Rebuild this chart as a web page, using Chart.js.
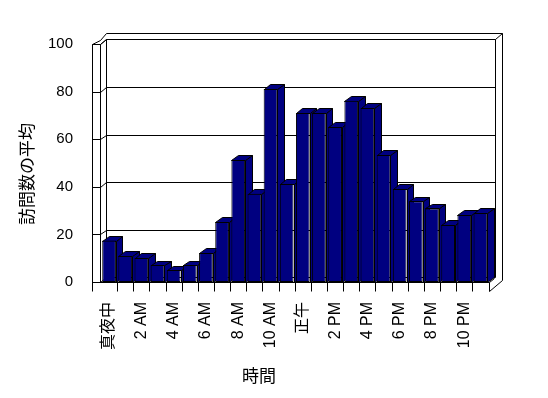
<!DOCTYPE html>
<html lang="ja">
<head>
<meta charset="utf-8">
<title>時間別の訪問数の平均</title>
<script src="https://cdn.jsdelivr.net/npm/chart.js@4.4.1/dist/chart.umd.min.js"></script>
<style>
  html, body { margin: 0; padding: 0; background: #fff; }
  #wrap { width: 548px; height: 398px; }
</style>
</head>
<body>
<div id="wrap"><canvas id="visitsChart"></canvas></div>
<script>
// 時間帯（カテゴリ）
const hours = ['真夜中', '1 AM', '2 AM', '3 AM', '4 AM', '5 AM', '6 AM', '7 AM', '8 AM', '9 AM', '10 AM', '11 AM',
               '正午', '1 PM', '2 PM', '3 PM', '4 PM', '5 PM', '6 PM', '7 PM', '8 PM', '9 PM', '10 PM', '11 PM'];
// 訪問数の平均
const visits = [17.4, 10.9, 10.1, 7.1, 5.0, 7.1, 12.2, 25.2, 51.3, 37.1, 81.1, 41.2,
                71.0, 71.0, 65.1, 76.2, 73.1, 53.4, 39.1, 33.9, 30.9, 24.0, 28.2, 29.0];
const yTicks = [0, 20, 40, 60, 80, 100];
const xTitle = '時間';
const yTitle = '訪問数の平均';

// 奥行き（擬似3D）
const DX = 6.5;
const DY = -4.6;
const NAVY = '#000080';

function seg(ctx, pts) {
    ctx.beginPath();
    pts.forEach((p, i) => {
        const x = Math.round(p[0]) + 0.5, y = Math.round(p[1]) + 0.5;
        if (i === 0) ctx.moveTo(x, y); else ctx.lineTo(x, y);
    });
    ctx.stroke();
}

function poly(ctx, pts) {
    ctx.beginPath();
    pts.forEach((p, i) => {
        const x = Math.round(p[0]) + 0.5, y = Math.round(p[1]) + 0.5;
        if (i === 0) ctx.moveTo(x, y); else ctx.lineTo(x, y);
    });
    ctx.closePath();
    ctx.fill();
    ctx.stroke();
}

// 壁・床・目盛線とバーの側面
const frame3d = {
    id: 'frame3d',
    beforeDatasetsDraw(chart) {
        const { ctx, chartArea: a, scales: { y } } = chart;
        const L = a.left - 1.5, R = a.right;
        const T = y.getPixelForValue(100), B = a.bottom;
        const oL = L - 7.5, fB = B + 9;
        const BR = R + DX, oT = T + DY - 6.7, oR = BR + 6.5;
        ctx.save();
        ctx.strokeStyle = '#000';
        ctx.lineWidth = 1;

        // 外枠
        seg(ctx, [[oL, fB], [oL, T], [L, T - 4.5], [L + DX, oT], [oR, oT], [oR, fB - 11], [R, fB]]);
        seg(ctx, [[oL, T], [L, T], [L, B]]);
        seg(ctx, [[L, T], [L + DX, T + DY]]);
        seg(ctx, [[L + DX, B + DY], [L + DX, T + DY], [BR, T + DY], [BR, B + DY]]);
        seg(ctx, [[BR, T + DY], [oR, oT]]);

        // 目盛線
        yTicks.forEach(v => {
            const yy = y.getPixelForValue(v);
            seg(ctx, [[oL, yy], [L, yy], [L + DX, yy + DY], [BR, yy + DY]]);
        });

        // バーの上面と側面
        ctx.fillStyle = NAVY;
        chart.getDatasetMeta(0).data.forEach(bar => {
            const p = bar.getProps(['x', 'y', 'base', 'width'], true);
            const l = p.x - p.width / 2, r = p.x + p.width / 2;
            poly(ctx, [[r, p.y], [r + DX, p.y + DY], [r + DX, p.base + DY], [r, p.base]]);
            poly(ctx, [[l, p.y], [l + DX, p.y + DY], [r + DX, p.y + DY], [r, p.y]]);
        });
        ctx.restore();
    },
    afterDatasetsDraw(chart) {
        const { ctx, chartArea: a, scales: { x } } = chart;
        const L = a.left - 1.5, R = a.right, B = a.bottom;
        const oL = L - 7.5, fB = B + 9;
        ctx.save();
        ctx.strokeStyle = '#000';
        ctx.lineWidth = 1;
        // 床の前面
        seg(ctx, [[oL, B], [R, B], [R, fB]]);
        for (let i = 0; i < hours.length - 1; i++) {
            const xx = (x.getPixelForValue(i) + x.getPixelForValue(i + 1)) / 2;
            seg(ctx, [[xx, B], [xx, fB]]);
        }
        seg(ctx, [[R, B], [R + 5, B - 4.4]]);
        ctx.restore();
    },
    afterDraw(chart) {
        const { ctx } = chart;
        ctx.save();
        ctx.fillStyle = '#000';
        ctx.font = '17px "Noto Sans CJK JP"';
        ctx.textAlign = 'center';
        ctx.textBaseline = 'middle';
        ctx.fillText(xTitle, 259, 376);
        ctx.translate(27, 174);
        ctx.rotate(-Math.PI / 2);
        ctx.fillText(yTitle, 0, 0);
        ctx.restore();
    }
};

document.addEventListener('DOMContentLoaded', () => {
    const ctx = document.getElementById('visitsChart').getContext('2d');
    new Chart(ctx, {
        type: 'bar',
        data: {
            labels: hours,
            datasets: [{
                label: yTitle,
                data: visits,
                backgroundColor: NAVY,
                borderColor: '#000',
                borderWidth: 1,
                borderSkipped: false,
                barPercentage: 0.85,
                categoryPercentage: 1
            }]
        },
        options: {
            responsive: true,
            maintainAspectRatio: false,
            animation: false,
            layout: { padding: { top: 44, right: 59.5, left: 0, bottom: 0 } },
            plugins: {
                legend: { display: false },
                tooltip: { enabled: false }
            },
            scales: {
                x: {
                    grid: { display: false, drawTicks: false },
                    border: { display: false },
                    afterFit: s => { s.height = 116; },
                    ticks: {
                        autoSkip: false,
                        minRotation: 90,
                        maxRotation: 90,
                        padding: 20,
                        color: '#000',
                        font: { family: '"Liberation Sans", "Noto Sans CJK JP"', size: 16 },
                        callback: (v, i) => (i % 2 === 0 ? hours[i] : '')
                    }
                },
                y: {
                    min: 0,
                    max: 100,
                    grid: { display: false, drawTicks: false },
                    border: { display: false },
                    afterFit: s => { s.width = 101; },
                    afterBuildTicks: s => { s.ticks = yTicks.map(v => ({ value: v })); },
                    ticks: {
                        padding: 28,
                        color: '#000',
                        font: { family: '"Liberation Sans Narrow", "Liberation Sans"', size: 15 }
                    }
                }
            }
        },
        plugins: [frame3d]
    });
});
</script>
</body>
</html>
